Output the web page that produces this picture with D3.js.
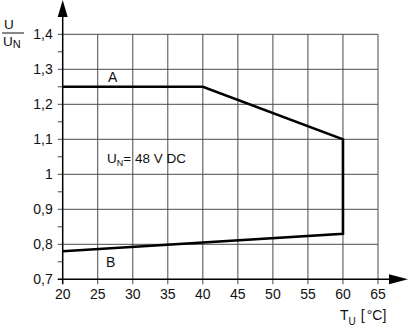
<!DOCTYPE html>
<html>
<head>
<meta charset="utf-8">
<script src="https://cdn.jsdelivr.net/npm/d3@7"></script>
<style>
  body { margin: 0; background: #fff; }
  text { font-family: "Liberation Sans", Arial, sans-serif; fill: #111; }
</style>
</head>
<body>
<svg id="chart" width="408" height="331"></svg>
<script>
// values
const xTicks = [20, 25, 30, 35, 40, 45, 50, 55, 60, 65];
const yTicks = [0.7, 0.8, 0.9, 1.0, 1.1, 1.2, 1.3, 1.4];
const yMinor = [0.75, 0.85, 0.95, 1.05, 1.15, 1.25, 1.35];
const curveT = [20, 40, 60, 60, 20];
const curveU = [1.25, 1.25, 1.1, 0.83, 0.78];

const svg = d3.select("#chart");
const x = d3.scaleLinear().domain([20, 65]).range([62.7, 378]);
const y = d3.scaleLinear().domain([0.7, 1.4]).range([279.3, 34.3]);
const fmt = d => String(d3.format(".1~f")(d)).replace(".", ",");

// grid
const grid = svg.append("g").attr("stroke", "#4a4a4a").attr("stroke-width", 1);
grid.selectAll("line.v").data(xTicks.slice(1)).join("line")
  .attr("x1", d => x(d)).attr("x2", d => x(d))
  .attr("y1", y(1.4)).attr("y2", y(0.7) + 5);
grid.selectAll("line.h").data(yTicks.slice(1)).join("line")
  .attr("x1", x(20) - 5).attr("x2", x(65))
  .attr("y1", d => y(d)).attr("y2", d => y(d));
grid.selectAll("line.m").data(yMinor).join("line")
  .attr("x1", x(20) - 5).attr("x2", x(20))
  .attr("y1", d => y(d)).attr("y2", d => y(d));

// axes with arrows
svg.append("line").attr("x1", x(20)).attr("x2", x(20))
  .attr("y1", y(0.7) + 5).attr("y2", 14)
  .attr("stroke", "#000").attr("stroke-width", 1.5);
svg.append("path")
  .attr("d", `M${x(20)},0 L${x(20) - 5},17 L${x(20) + 5},17 Z`).attr("fill", "#000");
svg.append("line").attr("x1", x(20) - 5).attr("x2", 392)
  .attr("y1", y(0.7)).attr("y2", y(0.7))
  .attr("stroke", "#000").attr("stroke-width", 1.5);
svg.append("path")
  .attr("d", `M408,${y(0.7)} L389,${y(0.7) - 5} L389,${y(0.7) + 5} Z`).attr("fill", "#000");

// tick labels
svg.append("g").selectAll("text").data(xTicks).join("text")
  .attr("x", d => x(d)).attr("y", y(0.7) + 20)
  .attr("text-anchor", "middle").attr("font-size", 14).text(d => d);
svg.append("g").selectAll("text").data(yTicks).join("text")
  .attr("x", x(20) - 10).attr("y", d => y(d) + 5)
  .attr("text-anchor", "end").attr("font-size", 14).text(fmt);

// curve
const line = d3.line().x(d => x(d[0])).y(d => y(d[1]));
svg.append("path")
  .attr("d", line(curveT.map((t, i) => [t, curveU[i]])))
  .attr("fill", "none").attr("stroke", "#000").attr("stroke-width", 2.6)
  .attr("stroke-linejoin", "miter");

// labels
svg.append("text").attr("x", 108).attr("y", 82).attr("font-size", 14).text("A");
svg.append("text").attr("x", 106).attr("y", 267).attr("font-size", 14).text("B");
const un = svg.append("text").attr("x", 107).attr("y", 163).attr("font-size", 13.5);
un.append("tspan").text("U");
un.append("tspan").attr("font-size", 9).attr("dy", 3).text("N");
un.append("tspan").attr("dy", -3).text("= 48 V DC");

// y axis title U / U_N
svg.append("text").attr("x", 4).attr("y", 29).attr("font-size", 13.5).text("U");
svg.append("line").attr("x1", 2).attr("x2", 24).attr("y1", 33).attr("y2", 33)
  .attr("stroke", "#111").attr("stroke-width", 1);
const yt = svg.append("text").attr("x", 3).attr("y", 46).attr("font-size", 13.5);
yt.append("tspan").text("U");
yt.append("tspan").attr("font-size", 11).attr("dy", 2).text("N");

// x axis title
const xt = svg.append("text").attr("x", 340).attr("y", 320).attr("font-size", 14);
xt.append("tspan").text("T");
xt.append("tspan").attr("font-size", 10).attr("dy", 5).text("U");
xt.append("tspan").attr("dy", -5).attr("dx", 5).text("[");
xt.append("tspan").attr("dx", 2).text("\u00B0C]");
</script>
</body>
</html>
